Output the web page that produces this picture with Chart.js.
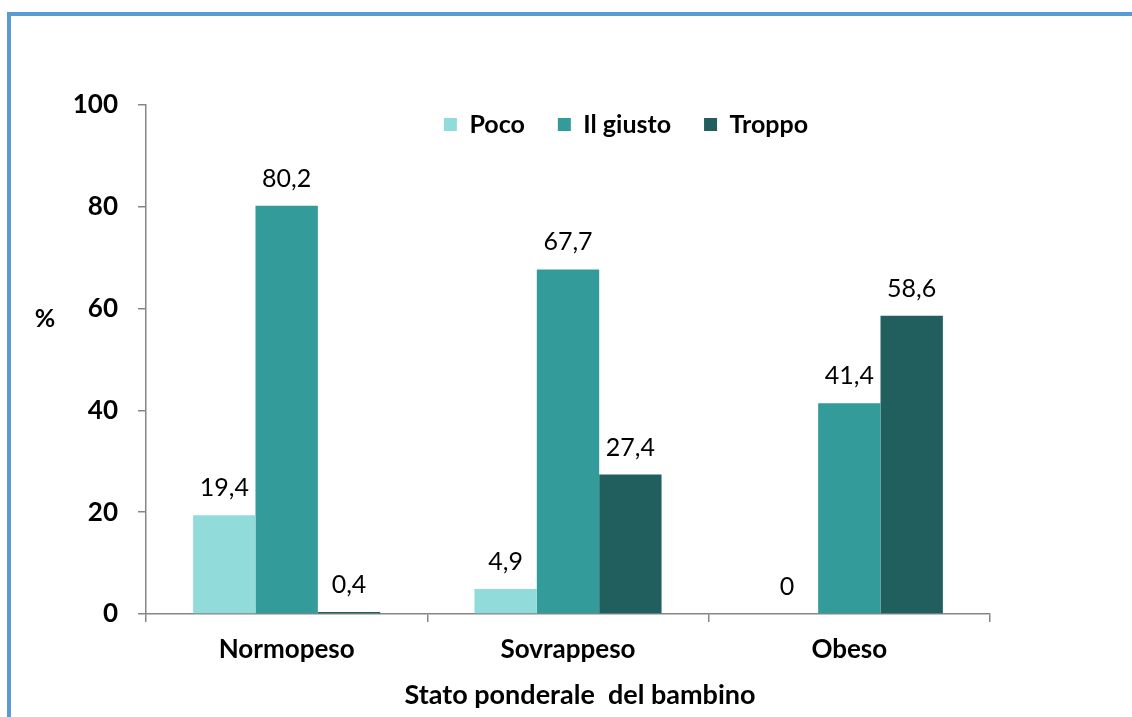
<!DOCTYPE html>
<html>
<head>
<meta charset="utf-8">
<script src="https://cdn.jsdelivr.net/npm/chart.js@4/dist/chart.umd.min.js"></script>
<style>
	html, body { margin: 0; padding: 0; background: #fff; }
	#wrap { position: relative; width: 1132px; height: 717px; overflow: hidden; }
	#chart { position: absolute; left: 0; top: 0; }
	#frame {
		position: absolute; left: 7px; top: 12px; right: -10px; bottom: -10px;
		border-left: 4px solid #5b9bd5; border-top: 4px solid #5b9bd5;
		pointer-events: none;
	}
</style>
</head>
<body>
<div id="wrap">
	<canvas id="chart" width="1132" height="717"></canvas>
	<div id="frame"></div>
</div>
<script>
const categories = ['Normopeso', 'Sovrappeso', 'Obeso']
const seriesNames = ['Poco', 'Il giusto', 'Troppo']
const poco = [19.4, 4.9, 0]
const ilGiusto = [80.2, 67.7, 41.4]
const troppo = [0.4, 27.4, 58.6]
const colors = ['#91dcda', '#339b99', '#215f5f']
const yTicks = [0, 20, 40, 60, 80, 100]
const xTitle = 'Stato ponderale  del bambino'
const yTitle = '%'

const FONT = "Lato, 'Open Sans', sans-serif"
Chart.defaults.font.family = FONT
Chart.defaults.color = '#000'

const fmt = v => String(v).replace('.', ',')

// legend takes no room; value labels, "%" and the axis title drawn by hand
const extras = {
	id: 'extras',
	beforeLayout(chart) {
		const lg = chart.legend
		if (lg && !lg._noRoom) {
			const fit = lg.fit.bind(lg)
			lg.fit = function() { fit(); this.height = 0 }
			lg._noRoom = true
		}
	},
	afterLayout(chart) {
		const lg = chart.legend
		lg.top = 79
		lg.bottom = lg.top + 80
		lg.height = 80
		lg.left += 131
		lg.right += 131
	},
	afterDatasetsDraw(chart) {
		const ctx = chart.ctx
		const a = chart.chartArea
		ctx.save()
		ctx.fillStyle = '#000'
		ctx.textAlign = 'center'
		ctx.textBaseline = 'middle'
		ctx.font = '25px ' + FONT
		chart.data.datasets.forEach((ds, di) => {
			chart.getDatasetMeta(di).data.forEach((bar, i) => {
				ctx.fillText(fmt(ds.data[i]), bar.x, bar.y - 27)
			})
		})
		ctx.font = 'bold 25px ' + FONT
		ctx.fillText(yTitle, a.left - 101, a.top + (a.bottom - a.top) * 0.42)
		ctx.font = 'bold 27px ' + FONT
		ctx.fillText(xTitle, (a.left + a.right) / 2 + 12, 695)
		ctx.restore()
	}
}

new Chart(document.getElementById('chart'), {
	type: 'bar',
	data: {
		labels: categories,
		datasets: [
			{label: seriesNames[0], data: poco, backgroundColor: colors[0]},
			{label: seriesNames[1], data: ilGiusto, backgroundColor: colors[1]},
			{label: seriesNames[2], data: troppo, backgroundColor: colors[2]},
		]
	},
	options: {
		responsive: false,
		animation: false,
		layout: {padding: {left: 0, right: 142, top: 105, bottom: 0}},
		datasets: {
			bar: {categoryPercentage: 0.665, barPercentage: 1, borderWidth: 0}
		},
		plugins: {
			tooltip: {enabled: false},
			legend: {
				position: 'top',
				align: 'center',
				labels: {
					boxWidth: 13,
					boxHeight: 13,
					padding: 33,
					font: {size: 25, weight: 'bold'},
					color: '#000'
				}
			}
		},
		scales: {
			x: {
				afterFit: s => { s.height = 103 },
				border: {color: '#868686', width: 1.5},
				grid: {offset: true, drawOnChartArea: false, tickLength: 8, color: '#868686', lineWidth: 1.5},
				ticks: {font: {size: 26, weight: 'bold'}, padding: 12, color: '#000'}
			},
			y: {
				min: 0,
				max: 100,
				afterFit: s => { s.width = 146 },
				afterBuildTicks: s => { s.ticks = yTicks.map(v => ({value: v})) },
				border: {color: '#868686', width: 1.5},
				grid: {drawOnChartArea: false, tickLength: 8, color: '#868686', lineWidth: 1.5},
				ticks: {font: {size: 26, weight: 'bold'}, padding: 20, color: '#000'}
			}
		}
	},
	plugins: [extras]
})
</script>
</body>
</html>
